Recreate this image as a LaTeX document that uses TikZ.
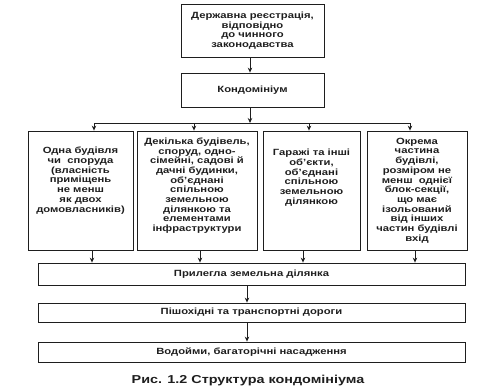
\documentclass[tikz,border=0pt]{standalone}
\usepackage{fontspec}
\setmainfont{Liberation Sans}[FakeStretch=1.25]
\usetikzlibrary{arrows.meta}
\definecolor{schemeink}{HTML}{1E1E1E}

\begin{document}
\begin{tikzpicture}[
  x=1pt,
  y=-1pt,
  every node/.style={font=\fontsize{9}{9.7}\selectfont\bfseries, text=schemeink},
  box/.style={draw=schemeink, line width=0.8pt, align=center, inner sep=2pt},
  link/.style={schemeink, line width=0.8pt, -{Stealth[length=5pt, width=4.5pt]}},
  wire/.style={schemeink, line width=0.8pt}
]
  \useasboundingbox (0,0) rectangle (488,388);

  % ---- registration and the condominium ---------------------------------
  \node[box, minimum width=143, minimum height=53] (reg) at (252.5,30.5)
    {Державна реєстрація,\\відповідно\\до чинного\\законодавства};
  \node[box, minimum width=143, minimum height=34] (kond) at (252.5,90)
    {Кондомініум};
  \draw[link] ([xshift=-2.5pt]reg.south) -- ([xshift=-2.5pt]kond.north);

  % ---- the four kinds of property ---------------------------------------
  \node[box, minimum width=105, minimum height=119] (one) at (80.5,190.5)
    {Одна будівля\\чи\ \ споруда\\(власність\\приміщень\\не менш\\як двох\\домовласників)\\[12pt]~};
  \node[box, minimum width=120, minimum height=119] (many) at (197,190.5)
    {Декілька будівель,\\споруд, одно-\\сімейні, садові й\\дачні будинки,\\об’єднані\\спільною\\земельною\\ділянкою та\\елементами\\інфраструктури\\[2pt]~};
  \node[box, minimum width=97, minimum height=119] (gar) at (311.5,190.5)
    {Гаражі та інші\\об’єкти,\\об’єднані\\спільною\\земельною\\ділянкою\\[18pt]~};
  \node[box, minimum width=100, minimum height=119] (part) at (417,190.5)
    {Окрема\\частина\\будівлі,\\розміром не\\менш\ \ однієї\\блок-секції,\\що має\\ізольований\\від інших\\частин будівлі\\вхід};

  % ---- branching line ---------------------------------------------------
  \coordinate (busL) at (94,123);
  \coordinate (busR) at (410,123);
  \draw[link] ([xshift=-2.5pt]kond.south) -- ([xshift=-2.5pt]kond.south |- busL);
  \draw[wire] (busL) -- (busR);
  \draw[link] (busL) -- (busL |- one.north);
  \draw[link] ([xshift=-3pt]many.north |- busL) -- ([xshift=-3pt]many.north);
  \draw[link] ([xshift=-2.5pt]gar.north |- busL) -- ([xshift=-2.5pt]gar.north);
  \draw[link] (busR) -- (busR |- part.north);

  % ---- the common surroundings ------------------------------------------
  \node[box, minimum width=427, minimum height=22] (land) at (251.5,274)
    {Прилегла земельна ділянка};
  \node[box, minimum width=427, minimum height=19] (road) at (251.5,312.5)
    {Пішохідні та транспортні дороги};
  \node[box, minimum width=427, minimum height=20] (water) at (251.5,352)
    {Водойми, багаторічні насадження};

  \draw[link] ([xshift=11.5pt]one.south) -- ([xshift=11.5pt]one.south |- land.north);
  \draw[link] ([xshift=3pt]many.south) -- ([xshift=3pt]many.south |- land.north);
  \draw[link] ([xshift=-8.5pt]gar.south) -- ([xshift=-8.5pt]gar.south |- land.north);
  \draw[link] ([xshift=-2pt]part.south) -- ([xshift=-2pt]part.south |- land.north);
  \draw[link] ([xshift=-4.5pt]land.south) -- ([xshift=-4.5pt]land.south |- road.north);
  \draw[link] ([xshift=-4.5pt]road.south) -- ([xshift=-4.5pt]road.south |- water.north);

  % ---- caption ----------------------------------------------------------
  \node[font=\fontsize{11.5}{13}\selectfont\bfseries] (cap) at (248,381)
    {Рис. 1.2 Структура кондомініума};
\end{tikzpicture}
\end{document}
